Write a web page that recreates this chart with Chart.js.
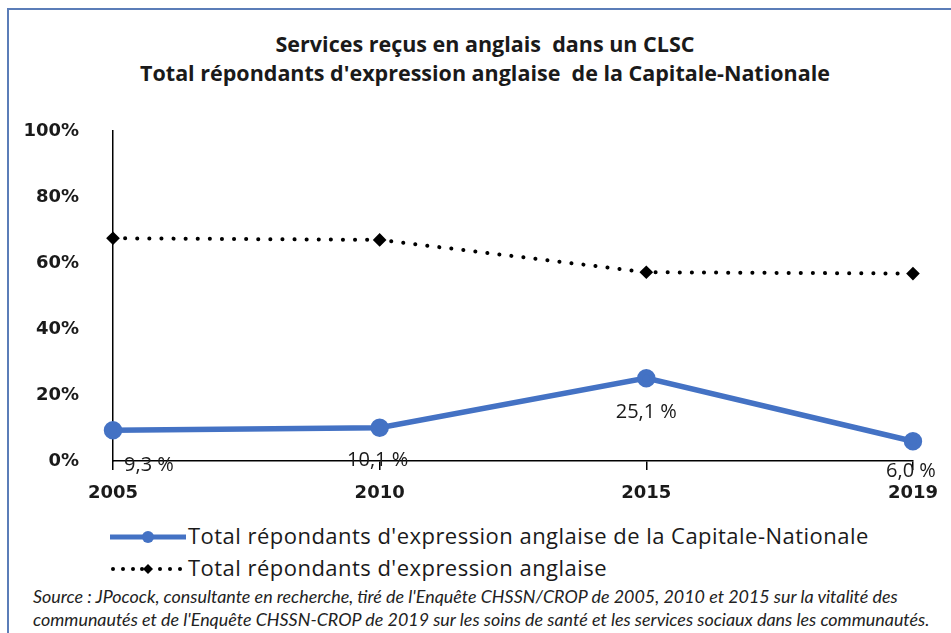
<!DOCTYPE html>
<html>
<head>
<meta charset="utf-8">
<script src="https://cdn.jsdelivr.net/npm/chart.js@4"></script>
<style>
  html, body { margin: 0; padding: 0; background: #fff; }
  body { width: 951px; height: 633px; position: relative; overflow: hidden; font-family: "Open Sans", sans-serif; color: #1a1a1a; }
  #frame { position: absolute; left: 7px; top: 8px; width: 960px; height: 640px;
           border-left: 2px solid #5b7db8; border-top: 2px solid #5b7db8; }
  #title { position: absolute; left: 85px; width: 800px; top: 29px; text-align: center;
           font-weight: 700; font-size: 21.5px; line-height: 29px; }
  #chartBox { position: absolute; left: 0; top: 0; width: 951px; height: 520px; }
  .leg { position: absolute; left: 110px; font-size: 22px; letter-spacing: 0.47px; height: 28px; line-height: 28px; white-space: nowrap; }
  .leg canvas { vertical-align: middle; margin-right: 2px; position: relative; top: -1px; }
  #src { position: absolute; left: 33px; top: 585px; font-family: Lato, sans-serif; font-style: italic; font-size: 17.9px; line-height: 23px; color: #222; white-space: nowrap; }
</style>
</head>
<body>
<div id="frame"></div>
<div id="title">Services reçus en anglais&nbsp; dans un CLSC<br>Total répondants d'expression anglaise&nbsp; de la Capitale-Nationale</div>
<div id="chartBox"><canvas id="chart"></canvas></div>
<div class="leg" style="top:521px"><canvas id="leg1" width="76" height="14"></canvas>Total répondants d'expression anglaise de la Capitale-Nationale</div>
<div class="leg" style="top:553px"><canvas id="leg2" width="76" height="14"></canvas>Total répondants d'expression anglaise</div>
<div id="src">Source : JPocock, consultante en recherche, tiré de l'Enquête CHSSN/CROP de 2005, 2010 et 2015 sur la vitalité des<br>communautés et de l'Enquête CHSSN-CROP de 2019 sur les soins de santé et les services sociaux dans les communautés.</div>
<script>
// ── Data ─────────────────────────────────────────────────────
const years      = ['2005', '2010', '2015', '2019'];
const capNat     = [9.3, 10.1, 25.1, 6.0];
const totalAngl  = [67.5, 67.0, 57.2, 56.8];
const capLabels  = ['9,3 %', '10,1 %', '25,1 %', '6,0 %'];
const yTicks     = [0, 20, 40, 60, 80, 100];

const BLUE = '#4472c4';

// label offsets (px) relative to each blue point
const labelOffsets = [[36, 35], [-2, 33], [0, 34], [-2, 30]];

const valueLabels = {
  id: 'valueLabels',
  afterDatasetsDraw(chart) {
    const meta = chart.getDatasetMeta(0);
    const ctx = chart.ctx;
    ctx.save();
    ctx.font = '20px "Open Sans"';
    ctx.fillStyle = '#1a1a1a';
    ctx.textAlign = 'center';
    ctx.textBaseline = 'middle';
    meta.data.forEach((pt, i) => {
      const [dx, dy] = labelOffsets[i];
      ctx.fillText(capLabels[i], pt.x + dx, pt.y + dy);
    });
    ctx.restore();
  }
};

const axisFont = { family: 'DejaVu Sans', size: 18, weight: '700' };

new Chart(document.getElementById('chart'), {
  type: 'line',
  data: {
    labels: years,
    datasets: [
      {
        label: "Total répondants d'expression anglaise de la Capitale-Nationale",
        data: capNat,
        borderColor: BLUE,
        backgroundColor: BLUE,
        borderWidth: 5.5,
        pointRadius: 6.5,
        pointHoverRadius: 6.5,
        tension: 0
      },
      {
        label: "Total répondants d'expression anglaise",
        data: totalAngl,
        borderColor: '#000',
        backgroundColor: '#000',
        borderWidth: 4,
        borderDash: [0.1, 12],
        borderCapStyle: 'round',
        pointStyle: 'rectRot',
        pointRadius: 4,
        tension: 0
      }
    ]
  },
  options: {
    responsive: true,
    maintainAspectRatio: false,
    animation: false,
    layout: { padding: { left: 20, right: 32, top: 131, bottom: 9 } },
    plugins: {
      legend: { display: false },
      tooltip: { enabled: false },
      title: { display: false }
    },
    scales: {
      x: {
        offset: false,
        grid: { drawOnChartArea: false, drawTicks: true, tickLength: 9, color: '#000', lineWidth: 1.5 },
        border: { display: true, color: '#000', width: 1.5 },
        ticks: { color: '#1a1a1a', font: axisFont, padding: 13, maxRotation: 0 },
        afterFit: s => { s.height = 50; }
      },
      y: {
        min: 0,
        max: 100,
        afterBuildTicks: s => { s.ticks = yTicks.map(v => ({ value: v })); },
        grid: { display: false },
        border: { display: true, color: '#000', width: 1.5 },
        ticks: { color: '#1a1a1a', font: axisFont, padding: 26, callback: v => v + '%' },
        afterFit: s => { s.width = 93; }
      }
    }
  },
  plugins: [valueLabels]
});

// ── Legend samples ───────────────────────────────────────────
(function () {
  let c = document.getElementById('leg1').getContext('2d');
  c.strokeStyle = BLUE; c.lineWidth = 5;
  c.beginPath(); c.moveTo(0, 7); c.lineTo(76, 7); c.stroke();
  c.fillStyle = BLUE; c.beginPath(); c.arc(38, 7, 6, 0, Math.PI * 2); c.fill();

  c = document.getElementById('leg2').getContext('2d');
  c.fillStyle = '#000';
  [3, 13, 23, 32, 50, 60, 70].forEach(x => { c.beginPath(); c.arc(x, 7, 2, 0, Math.PI * 2); c.fill(); });
  c.beginPath(); c.moveTo(38, 2); c.lineTo(43, 7); c.lineTo(38, 12); c.lineTo(33, 7); c.closePath(); c.fill();
})();
</script>
</body>
</html>
